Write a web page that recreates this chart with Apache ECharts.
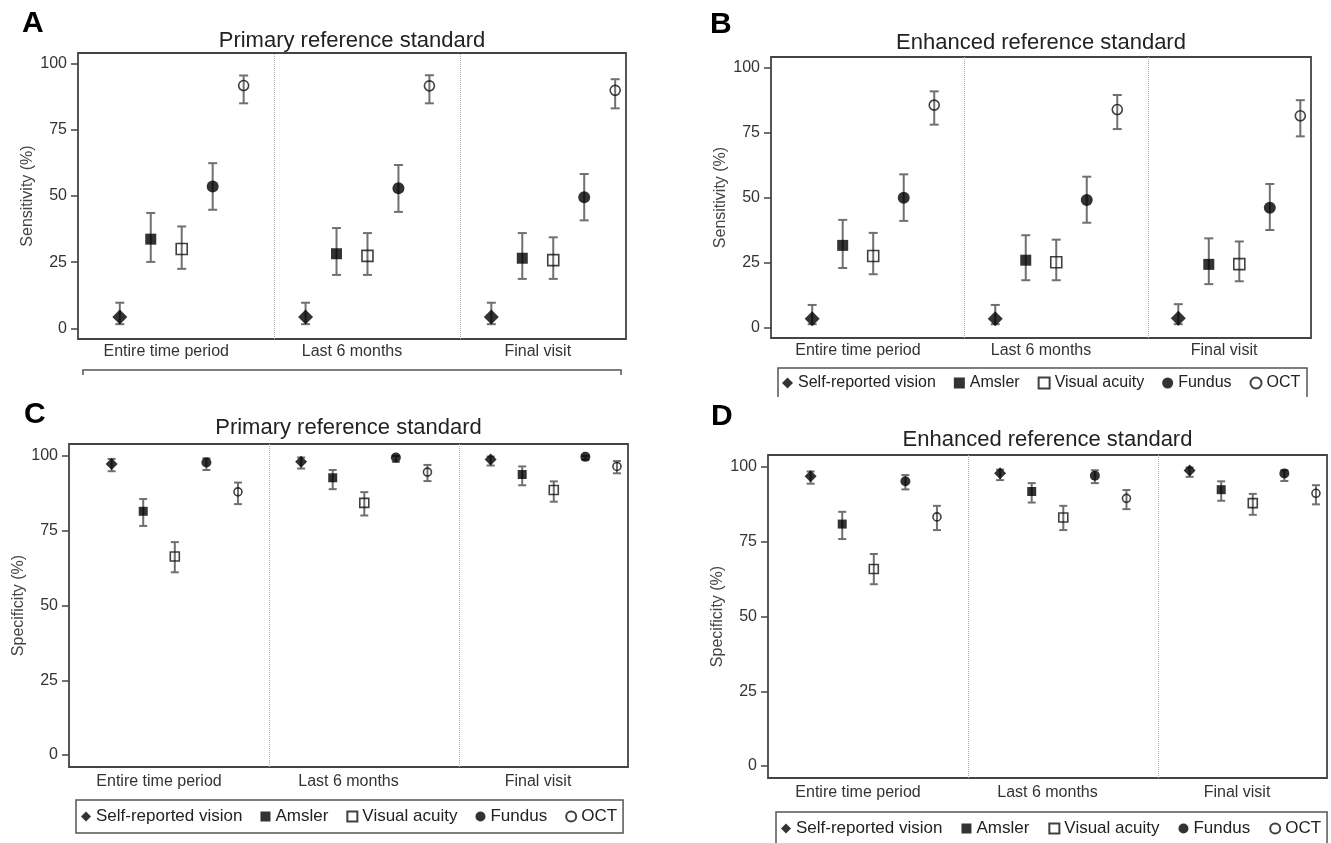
<!DOCTYPE html>
<html>
<head>
<meta charset="utf-8">
<title>Sensitivity and specificity</title>
<script src="https://cdn.jsdelivr.net/npm/echarts@6.0.0/dist/echarts.min.js"></script>
<style>
  html, body { margin: 0; padding: 0; background: #fff; }
  #chart { width: 1331px; height: 843px; }
</style>
</head>
<body>
<div id="chart"></div>
<script>
const methods = ['Self-reported vision', 'Amsler', 'Visual acuity', 'Fundus', 'OCT']
const periods = ['Entire time period', 'Last 6 months', 'Final visit']
const periodCenters = [2.5, 8.5, 14.5]
const yTicks = [0, 25, 50, 75, 100]

// rows = periods, columns = methods (estimate, lower and upper 95% CI, %)
const sensPrimaryEst = [
  [4.3, 33.7, 30.0, 53.6, 91.7],
  [4.3, 28.2, 27.4, 52.9, 91.6],
  [4.3, 26.5, 25.8, 49.5, 89.9]
]
const sensPrimaryLo = [
  [1.6, 25.1, 22.5, 44.8, 85.0],
  [1.6, 20.2, 20.2, 44.0, 85.0],
  [1.6, 18.7, 18.7, 40.8, 83.1]
]
const sensPrimaryHi = [
  [9.7, 43.6, 38.5, 62.4, 95.5],
  [9.7, 37.9, 36.0, 61.7, 95.6],
  [9.7, 36.0, 34.4, 58.3, 94.1]
]

const sensEnhancedEst = [
  [3.4, 31.6, 27.5, 49.9, 85.5],
  [3.4, 25.9, 25.1, 49.0, 83.8],
  [3.6, 24.3, 24.4, 46.1, 81.4]
]
const sensEnhancedLo = [
  [1.3, 22.9, 20.5, 41.0, 78.0],
  [1.3, 18.2, 18.2, 40.3, 76.3],
  [1.3, 16.7, 17.8, 37.5, 73.5]
]
const sensEnhancedHi = [
  [8.7, 41.4, 36.4, 58.9, 90.8],
  [8.7, 35.5, 33.8, 58.0, 89.4],
  [9.0, 34.3, 33.1, 55.2, 87.4]
]

const specPrimaryEst = [
  [97.3, 81.5, 66.4, 97.8, 88.0],
  [98.1, 92.7, 84.3, 99.5, 94.6],
  [98.8, 93.8, 88.6, 99.7, 96.5]
]
const specPrimaryLo = [
  [94.9, 76.6, 61.1, 95.3, 83.9],
  [95.8, 88.9, 80.1, 98.0, 91.6],
  [96.8, 90.2, 84.7, 98.8, 94.2]
]
const specPrimaryHi = [
  [99.0, 85.6, 71.2, 99.2, 91.1],
  [99.5, 95.3, 87.9, 100, 97.0],
  [99.8, 96.5, 91.5, 100, 98.3]
]

const specEnhancedEst = [
  [96.9, 80.9, 65.9, 95.2, 83.3],
  [97.9, 91.8, 83.1, 97.1, 89.5],
  [98.8, 92.4, 87.9, 97.8, 91.2]
]
const specEnhancedLo = [
  [94.4, 75.9, 60.8, 92.5, 78.9],
  [95.6, 88.1, 78.9, 94.6, 85.9],
  [96.7, 88.7, 84.0, 95.3, 87.5]
]
const specEnhancedHi = [
  [98.5, 85.0, 70.9, 97.3, 87.0],
  [99.1, 94.6, 87.0, 98.9, 92.3],
  [99.8, 95.2, 91.0, 98.9, 93.9]
]

// marker look per method
const methodSymbols = ['diamond', 'rect', 'rect', 'circle', 'circle']
const methodHollow = [false, false, true, false, true]
const sizesBig = [15, 11, 11, 12, 10]
const sizesSmall = [12, 9, 9, 10, 8]

const font = '"Liberation Sans", Arial, Helvetica, sans-serif'

const panels = [
  {
    letter: 'A', title: 'Primary reference standard', yName: 'Sensitivity (%)',
    est: sensPrimaryEst, lo: sensPrimaryLo, hi: sensPrimaryHi,
    grid: { left: 78, top: 53, width: 548, height: 286 },
    letterPos: [22, 9], titleTop: 30, sizes: sizesBig, cap: 4.5, labelMargin: 5
  },
  {
    letter: 'B', title: 'Enhanced reference standard', yName: 'Sensitivity (%)',
    est: sensEnhancedEst, lo: sensEnhancedLo, hi: sensEnhancedHi,
    grid: { left: 771, top: 57, width: 540, height: 281 },
    letterPos: [710, 10], titleTop: 32, sizes: sizesBig, cap: 4.5, labelMargin: 5
  },
  {
    letter: 'C', title: 'Primary reference standard', yName: 'Specificity (%)',
    est: specPrimaryEst, lo: specPrimaryLo, hi: specPrimaryHi,
    grid: { left: 69, top: 444, width: 559, height: 323 },
    letterPos: [24, 400], titleTop: 417, sizes: sizesSmall, cap: 4, labelMargin: 7
  },
  {
    letter: 'D', title: 'Enhanced reference standard', yName: 'Specificity (%)',
    est: specEnhancedEst, lo: specEnhancedLo, hi: specEnhancedHi,
    grid: { left: 768, top: 455, width: 559, height: 323 },
    letterPos: [711, 402], titleTop: 429, sizes: sizesSmall, cap: 4, labelMargin: 7
  }
]

function errorBarRenderer(cap) {
  return function(params, api) {
    const x = api.value(0)
    const lo = api.coord([x, api.value(1)])
    const hi = api.coord([x, api.value(2)])
    const style = { stroke: '#707070', lineWidth: 2 }
    return {
      type: 'group',
      children: [
        { type: 'line', shape: { x1: lo[0], y1: lo[1], x2: hi[0], y2: hi[1] }, style: style },
        { type: 'line', shape: { x1: lo[0] - cap, y1: lo[1], x2: lo[0] + cap, y2: lo[1] }, style: style },
        { type: 'line', shape: { x1: hi[0] - cap, y1: hi[1], x2: hi[0] + cap, y2: hi[1] }, style: style }
      ]
    }
  }
}

const grids = []
const xAxes = []
const yAxes = []
const titles = []
const series = []

panels.forEach((p, i) => {
  grids.push(Object.assign({
    show: true, borderColor: '#444', borderWidth: 1.8, backgroundColor: '#fff'
  }, p.grid))

  titles.push({
    text: p.letter, left: p.letterPos[0], top: p.letterPos[1], padding: 0,
    textStyle: { fontFamily: font, fontSize: 30, fontWeight: 'bold', color: '#000' }
  })
  titles.push({
    text: p.title, left: p.grid.left + p.grid.width / 2, textAlign: 'center', top: p.titleTop, padding: 0,
    textStyle: { fontFamily: font, fontSize: 22, fontWeight: 'normal', color: '#222' }
  })

  xAxes.push({
    gridIndex: i, type: 'value', min: -0.35, max: 17.35,
    axisLine: { show: false, onZero: false }, axisTick: { show: false }, splitLine: { show: false },
    axisLabel: {
      customValues: periodCenters,
      formatter: v => periods[periodCenters.indexOf(v)],
      fontFamily: font, fontSize: 16, color: '#333', margin: p.labelMargin
    }
  })

  yAxes.push({
    gridIndex: i, type: 'value', min: -4, max: 104,
    name: p.yName, nameLocation: 'middle', nameGap: 42, nameRotate: 90,
    nameTextStyle: { fontFamily: font, fontSize: 16, color: '#444' },
    axisLine: { show: false, onZero: false }, splitLine: { show: false },
    axisTick: { show: true, length: 7, customValues: yTicks, lineStyle: { color: '#444', width: 1.5 } },
    axisLabel: { customValues: yTicks, fontFamily: font, fontSize: 16, color: '#333', margin: 11 }
  })

  methods.forEach((name, m) => {
    const points = periods.map((per, g) => [g * 6 + m + 1, p.est[g][m]])
    const bars = periods.map((per, g) => [g * 6 + m + 1, p.lo[g][m], p.hi[g][m]])

    series.push({
      type: 'custom', name: name + ' CI', xAxisIndex: i, yAxisIndex: i,
      renderItem: errorBarRenderer(p.cap), encode: { x: 0, y: [1, 2] },
      data: bars, z: 2, silent: true
    })

    const s = {
      type: 'scatter', name: name, xAxisIndex: i, yAxisIndex: i,
      symbol: methodSymbols[m], symbolSize: p.sizes[m],
      itemStyle: methodHollow[m]
        ? { color: 'rgba(0,0,0,0)', borderColor: '#111', borderWidth: 1.6 }
        : { color: '#000' },
      data: points, z: 3, silent: true
    }
    // dotted separators between the time periods
    if (m === 0) {
      s.markLine = {
        silent: true, symbol: ['none', 'none'], label: { show: false },
        lineStyle: { type: 'dotted', color: '#aaa', width: 1 },
        data: [{ xAxis: 6 }, { xAxis: 12 }]
      }
    }
    series.push(s)
  })
})

const legendTextB = { fontFamily: font, fontSize: 16, color: '#222' }
const legendTextCD = { fontFamily: font, fontSize: 17, color: '#222' }

const chart = echarts.init(document.getElementById('chart'))
chart.setOption({
  animation: false,
  backgroundColor: '#fff',
  textStyle: { fontFamily: font },
  title: titles,
  grid: grids,
  xAxis: xAxes,
  yAxis: yAxes,
  legend: [
    {
      data: methods, selectedMode: false, left: 782, top: 375, padding: 0,
      itemGap: 18, itemWidth: 11, itemHeight: 11, textStyle: legendTextB
    },
    {
      data: methods, selectedMode: false, left: 76, top: 800, padding: [8, 6, 8, 5],
      borderColor: '#555', borderWidth: 1.5,
      itemGap: 18, itemWidth: 10, itemHeight: 10, textStyle: legendTextCD
    },
    {
      data: methods, selectedMode: false, left: 776, top: 812, padding: [8, 6, 8, 5],
      borderColor: '#555', borderWidth: 1.5,
      itemGap: 19, itemWidth: 10, itemHeight: 10, textStyle: legendTextCD
    }
  ],
  graphic: [
    // cropped legend frames (A shows only the top edge, B has no bottom edge)
    {
      type: 'polyline', silent: true,
      shape: { points: [[83, 375], [83, 370], [621, 370], [621, 375]] },
      style: { stroke: '#555', lineWidth: 1.5, fill: null }
    },
    {
      type: 'polyline', silent: true,
      shape: { points: [[778, 397], [778, 368], [1307, 368], [1307, 397]] },
      style: { stroke: '#555', lineWidth: 1.5, fill: null }
    }
  ],
  series: series
})
</script>
</body>
</html>
